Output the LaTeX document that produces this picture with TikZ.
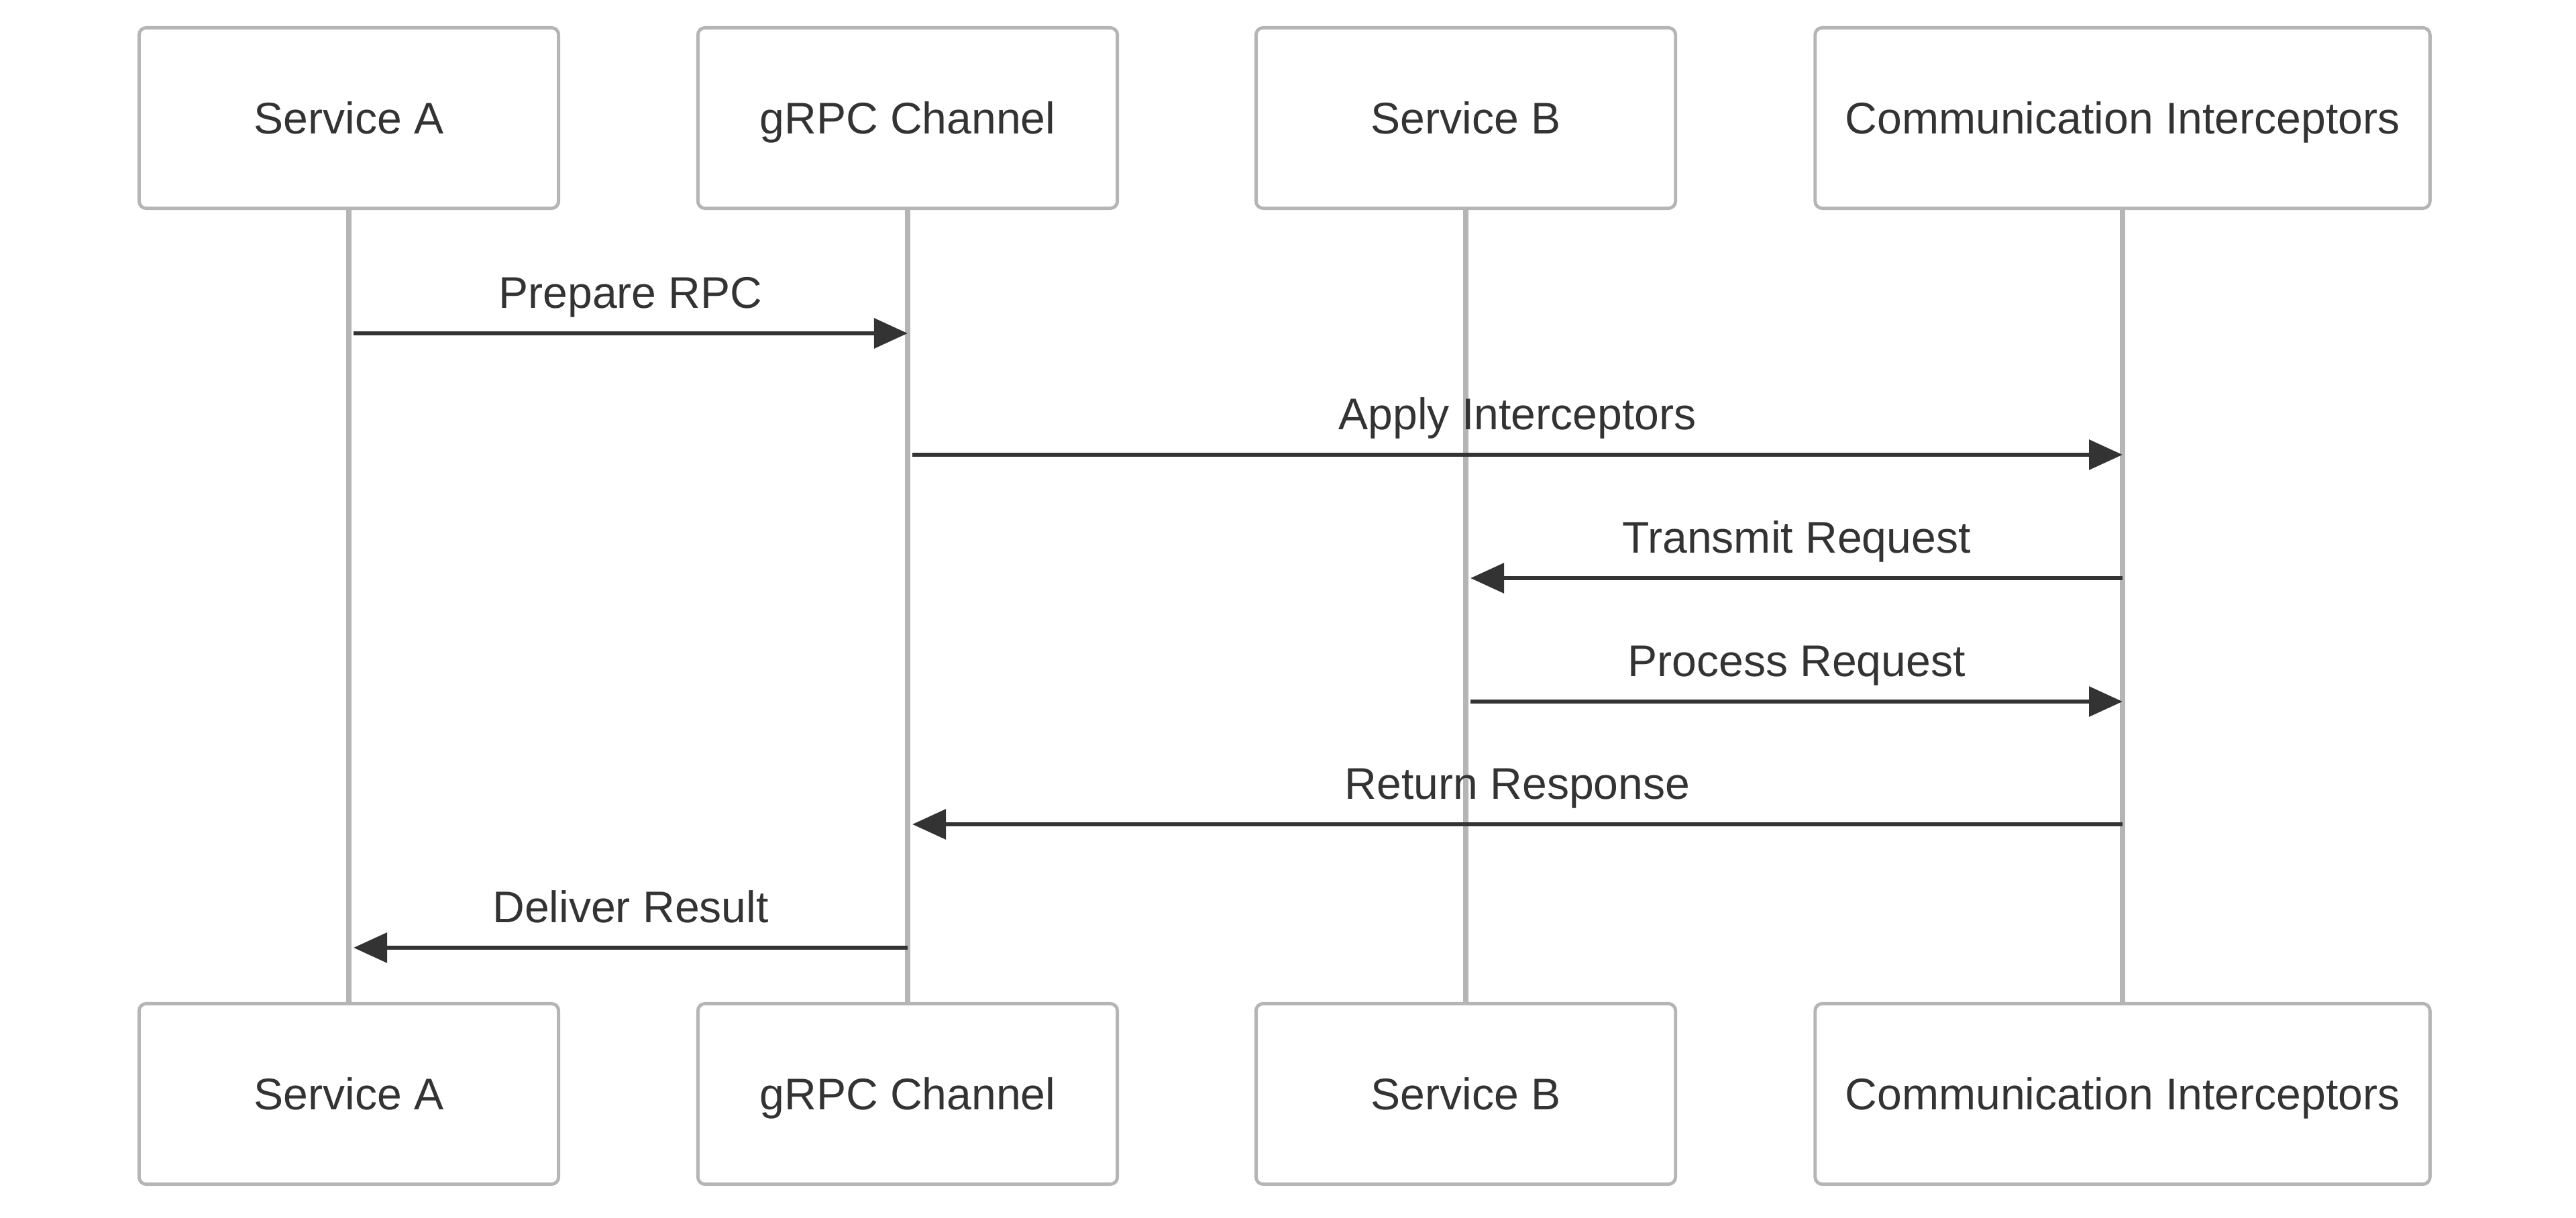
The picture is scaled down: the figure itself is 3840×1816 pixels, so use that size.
\documentclass[tikz,border=0pt]{standalone}
\usepackage{fontspec}
\setmainfont{Liberation Sans}
\usetikzlibrary{arrows.meta}
\definecolor{boxline}{HTML}{B5B5B5}
\definecolor{ink}{HTML}{333333}
\tikzset{
  actor/.style={draw=boxline,line width=1.4pt,fill=white,rounded corners=3pt,
    minimum width=6.25cm,minimum height=2.69cm,text=ink,
    text height=13.5pt,text depth=0pt,
    font=\fontsize{18.8pt}{22pt}\selectfont},
  wideactor/.style={actor,minimum width=9.16cm},
  lifeline/.style={draw=boxline,line width=2.4pt},
  msg/.style={draw=ink,line width=1.8pt,-{Triangle[length=0.5cm,width=0.44cm]}},
  msglabel/.style={midway,anchor=base,yshift=0.37cm,text=ink,
    font=\fontsize{18.8pt}{22pt}\selectfont}
}
\begin{document}
\begin{tikzpicture}[x=0.01cm,y=-0.01cm]
\useasboundingbox(0,0)rectangle(3840,1816);
\def\top{176}
\def\bot{1631}
% actors
\node[actor](a1)at(520,\top){Service A};
\node[actor](ch1)at(1353,\top){gRPC Channel};
\node[actor](b1)at(2185,\top){Service B};
\node[wideactor](ci1)at(3164,\top){Communication Interceptors};
\node[actor](a2)at(520,\bot){Service A};
\node[actor](ch2)at(1353,\bot){gRPC Channel};
\node[actor](b2)at(2185,\bot){Service B};
\node[wideactor](ci2)at(3164,\bot){Communication Interceptors};
% lifelines
\draw[lifeline](a1)--(a2);
\draw[lifeline](ch1)--(ch2);
\draw[lifeline](b1)--(b2);
\draw[lifeline](ci1)--(ci2);
% message rows
\coordinate(r1)at(0,497);
\coordinate(r2)at(0,678);
\coordinate(r3)at(0,862);
\coordinate(r4)at(0,1046);
\coordinate(r5)at(0,1229);
\coordinate(r6)at(0,1413);
\draw[msg]([xshift=2pt]a1|-r1)--(ch1|-r1)node[msglabel]{Prepare RPC};
\draw[msg]([xshift=2pt]ch1|-r2)--(ci1|-r2)node[msglabel]{Apply Interceptors};
\draw[msg](ci1|-r3)--([xshift=2pt]b1|-r3)node[msglabel]{Transmit Request};
\draw[msg]([xshift=2pt]b1|-r4)--(ci1|-r4)node[msglabel]{Process Request};
\draw[msg](ci1|-r5)--([xshift=2pt]ch1|-r5)node[msglabel]{Return Response};
\draw[msg](ch1|-r6)--([xshift=2pt]a1|-r6)node[msglabel]{Deliver Result};
\end{tikzpicture}
\end{document}
